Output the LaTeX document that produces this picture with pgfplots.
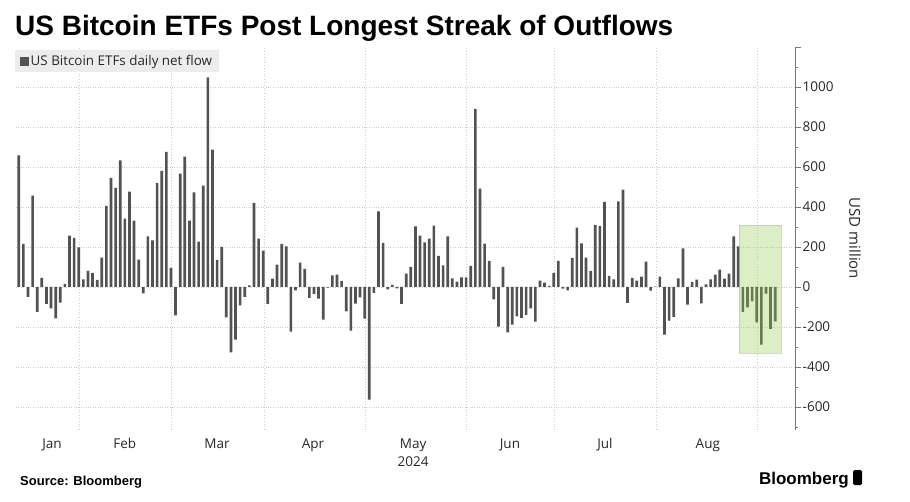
\documentclass[border=0pt]{standalone}
\usepackage{pgfplots}
\usepackage{pgfplotstable}
\pgfplotsset{compat=1.18}
\usepackage{fontspec}
\setmainfont{Open Sans}
\newfontfamily\titlefont{Liberation Sans}
\definecolor{barcol}{RGB}{82,82,82}
\definecolor{gridcol}{RGB}{205,205,205}
\definecolor{hl}{RGB}{148,206,79}
\definecolor{legbg}{RGB}{236,236,236}
\definecolor{axcol}{RGB}{120,120,120}
\definecolor{txt}{RGB}{40,40,40}

\pgfplotstableread{
x y
1 658
2 215
3 -50
4 457
5 -125
6 45
7 -85
8 -107
9 -157
10 -78
11 15
12 257
13 245
14 198
15 38
16 80
17 70
18 35
19 147
20 405
21 545
22 495
23 633
24 342
25 477
26 332
27 137
28 -32
29 253
30 233
31 520
32 580
33 675
34 95
35 -142
36 567
37 652
38 332
39 473
40 227
41 507
42 1048
43 687
44 135
45 200
46 -152
47 -327
48 -263
49 -92
50 -50
51 8
52 420
53 242
54 182
55 -85
56 42
57 112
58 215
59 203
60 -223
61 -17
62 122
63 90
64 -55
65 -35
66 -58
67 -163
68 -3
69 58
70 62
71 30
72 -122
73 -218
74 -83
75 -52
76 -158
77 -563
78 -30
79 378
80 220
81 -12
82 10
83 -7
84 -85
85 67
86 100
87 303
88 257
89 223
90 242
91 307
92 155
93 108
94 253
95 43
96 27
97 48
98 48
99 105
100 890
101 492
102 217
103 130
104 -62
105 -198
106 100
107 -227
108 -188
109 -147
110 -155
111 -140
112 -107
113 -173
114 32
115 22
116 5
117 70
118 130
119 -8
120 -17
121 145
122 297
123 218
124 147
125 80
126 310
127 305
128 425
129 55
130 38
131 428
132 487
133 -80
134 45
135 32
136 52
137 127
138 -18
139 2
140 52
141 -238
142 -168
143 -150
144 43
145 193
146 -88
147 25
148 37
149 -82
150 13
151 38
152 62
153 87
154 42
155 67
156 253
157 203
158 -125
159 -102
160 -72
161 -177
162 -288
163 -33
164 -210
165 -172
}\flows

\begin{document}
\begin{tikzpicture}
\path[use as bounding box, fill=white] (0pt,0pt) rectangle (910pt,-502pt);
\node[anchor=base west, inner sep=0pt, text=black,
      font=\titlefont\bfseries\fontsize{28}{30}\selectfont] at (15pt,-36pt)
      {US Bitcoin ETFs Post Longest Streak of Outflows};
\begin{axis}[
  at={(16pt,-47pt)}, anchor=north west,
  scale only axis, width=779pt, height=383pt,
  xmin=0.4, xmax=169.3, ymin=-715, ymax=1200,
  clip=false,
  axis y line*=right, axis x line*=bottom,
  x axis line style={draw=none},
  y axis line style={axcol, line width=0.8pt},
  tick align=outside,
  ytick={-600,-400,...,1000},
  minor ytick={-700,-500,...,1100},
  extra y ticks={1200}, extra y tick labels={},
  extra y tick style={grid=none},
  major tick length=6pt, minor tick length=3pt,
  y tick style={axcol, line width=0.7pt},
  ymajorgrids,
  grid style={gridcol, dotted, line width=0.8pt},
  xtick={8.2,24.0,44.0,64.8,86.5,107.5,128.1,150.4},
  xticklabels={Jan,Feb,Mar,Apr,May,Jun,Jul,Aug},
  x tick style={draw=none},
  extra x ticks={14.15,34.15,54.15,76.15,98.15,117.15,139.15,161.15},
  extra x tick labels={},
  extra x tick style={grid=major, major grid style={gridcol, dotted, line width=0.8pt}, tick style={draw=none}},
  /pgf/number format/assume math mode=true,
  /pgf/number format/1000 sep={},
  tick label style={font=\fontsize{13.5}{15}\selectfont, text=txt},
  yticklabel style={anchor=west, inner xsep=1.5pt},
  xticklabel style={yshift=1pt},
  legend style={at={(0,1)}, anchor=north west, xshift=-1pt, yshift=-3pt,
    fill=legbg, draw=none, font=\fontsize{13.4}{15}\selectfont, text=txt,
    inner xsep=5pt, inner ysep=3pt},
  legend image code/.code={\fill[barcol] (0pt,-4.5pt) rectangle (8.5pt,4.5pt);},
  legend cell align=left,
]
\addplot[ybar, bar width=0.58, fill=barcol, draw=none] table[x=x, y=y] {\flows};
\addlegendentry{US Bitcoin ETFs daily net flow}
\fill[hl, fill opacity=0.33, draw=hl, draw opacity=0.5] (axis cs:157.2,-330) rectangle (axis cs:166.2,310);
\node[rotate=-90, font=\fontsize{15}{17}\selectfont, text=txt] at ([xshift=60pt]rel axis cs:1,0.5) {USD million};
\node[font=\fontsize{13.5}{15}\selectfont, text=txt] at ([yshift=-32pt]axis cs:86.5,-715) {2024};
\end{axis}
\node[anchor=base west, inner sep=0pt, font=\titlefont\bfseries\fontsize{13}{15}\selectfont, text=black] at (20pt,-485pt) {Source: Bloomberg};
\node[anchor=base east, inner sep=0pt, font=\titlefont\bfseries\fontsize{17}{19}\selectfont, text=black] at (849pt,-484pt) {Bloomberg};
\fill[black, rounded corners=1.5pt] (853pt,-470pt) rectangle (862pt,-485pt);
\end{tikzpicture}
\end{document}
